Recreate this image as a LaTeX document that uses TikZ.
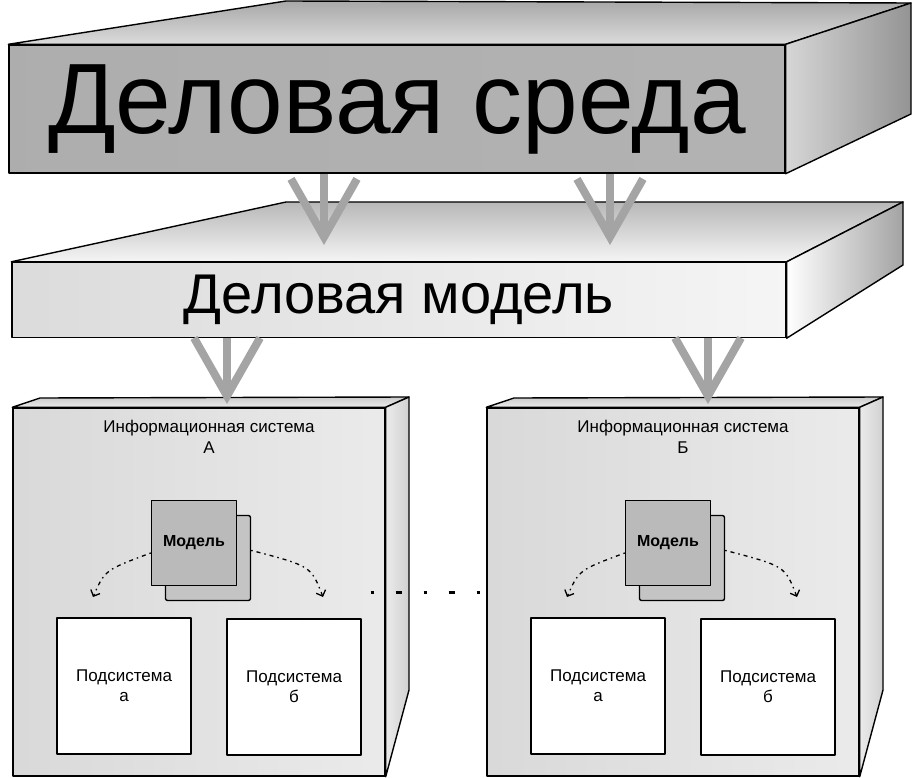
\documentclass[tikz,border=0pt]{standalone}
\usepackage{fontspec}
\setmainfont{Liberation Sans}
\usetikzlibrary{positioning, calc, arrows.meta}

\definecolor{arrowgray}{HTML}{A4A4A4}

\tikzset{
    face/.style={draw, line width=1.4pt, line join=round},
    bigarrow/.style={arrowgray, line width=8pt, -{Straight Barb[length=58pt, width=66pt]}},
    usearrow/.style={line width=1.3pt, dash pattern=on 1.5pt off 4pt on 4pt off 4pt, -{Straight Barb[length=5pt, width=10pt]}},
    subbox/.style={face, fill=white, minimum width=134pt, minimum height=136pt, align=center, font=\fontsize{17}{20}\selectfont},
}

\begin{document}
\begin{tikzpicture}[x=1pt, y=-1pt]
    \useasboundingbox (0,0) rectangle (914,778);

    % Деловая среда (top slab)
    \node[face, minimum width=776pt, minimum height=128pt, left color=black!32, middle color=black!15, right color=black!30,
          font=\fontsize{100}{110}\selectfont] (env) at (397,109) {Деловая среда};
    \shade[face, top color=black!34, bottom color=black!14] (env.north west) -- (286,1) -- (911,3) -- (env.north east) -- cycle;
    \shade[face, left color=black!16, right color=black!42] (env.north east) -- (911,3) -- (911,114) -- (env.south east) -- cycle;

    % Деловая модель (middle slab)
    \node[face, minimum width=774pt, minimum height=75pt, left color=black!14, middle color=white, right color=black!4,
          font=\fontsize{56}{62}\selectfont] (model) at (399,300) {Деловая модель};
    \shade[face, top color=black!28, bottom color=black!4] (model.north west) -- (286,202) -- (903,202) -- (model.north east) -- cycle;
    \shade[face, left color=white, right color=black!36] (model.north east) -- (903,202) -- (903,265) -- (model.south east) -- cycle;

    % arrows env -> model
    \foreach \x [count=\i] in {324, 610} {
        \coordinate (in\i) at (\x,245);
        \draw[bigarrow] (env.south -| in\i) -- (in\i);
    }

    % information systems
    \foreach \lbl/\dx [count=\i] in {А/0, Б/474} {
        \node[face, minimum width=372pt, minimum height=368pt, left color=black!15, right color=black!8] (sys\i) at (199+\dx,592) {};
        \shade[face, top color=black!20, bottom color=black!8] (sys\i.north west) -- (40+\dx,398) -- (409+\dx,397) -- (sys\i.north east) -- cycle;
        \shade[face, left color=black!8, right color=black!18] (sys\i.north east) -- (409+\dx,397) -- (409+\dx,690) -- (sys\i.south east) -- cycle;
        \node[font=\fontsize{17}{21}\selectfont, align=center] (ttl\i) at (209+\dx,437) {Информационная система\\\lbl};

        % model (two sheets)
        \node[face, fill=black!23, rounded corners=2pt, minimum size=85pt] (mdlb\i) at (208+\dx,558) {};
        \node[face, fill=black!27, minimum size=85pt, font=\bfseries\fontsize{16}{19}\selectfont] (mdl\i) at (194+\dx,543) {Модель};

        % subsystems
        \node[subbox] (suba\i) at (124+\dx,686) {Подсистема\\а};
        \node[subbox] (subb\i) at (294+\dx,687) {Подсистема\\б};

        % use arrows
        \coordinate (tipa\i) at (93+\dx,597);
        \coordinate (tipb\i) at (323+\dx,597);
        \draw[usearrow] (mdl\i.193) .. controls (105+\dx,570) .. (tipa\i);
        \draw[usearrow] (mdlb\i.10) .. controls (311+\dx,566) .. (tipb\i);
    }

    % arrows model -> systems
    \foreach \x [count=\i] in {227, 708} {
        \coordinate (out\i) at (\x,404);
        \draw[bigarrow] (model.south -| out\i) -- (out\i);
    }

    % dots between the systems
    \coordinate (dotsl) at (370.5,592);
    \draw[line width=3pt, dash pattern=on 3pt off 22pt on 6pt off 22pt] (dotsl) -- (dotsl -| sys2.west);
\end{tikzpicture}
\end{document}
